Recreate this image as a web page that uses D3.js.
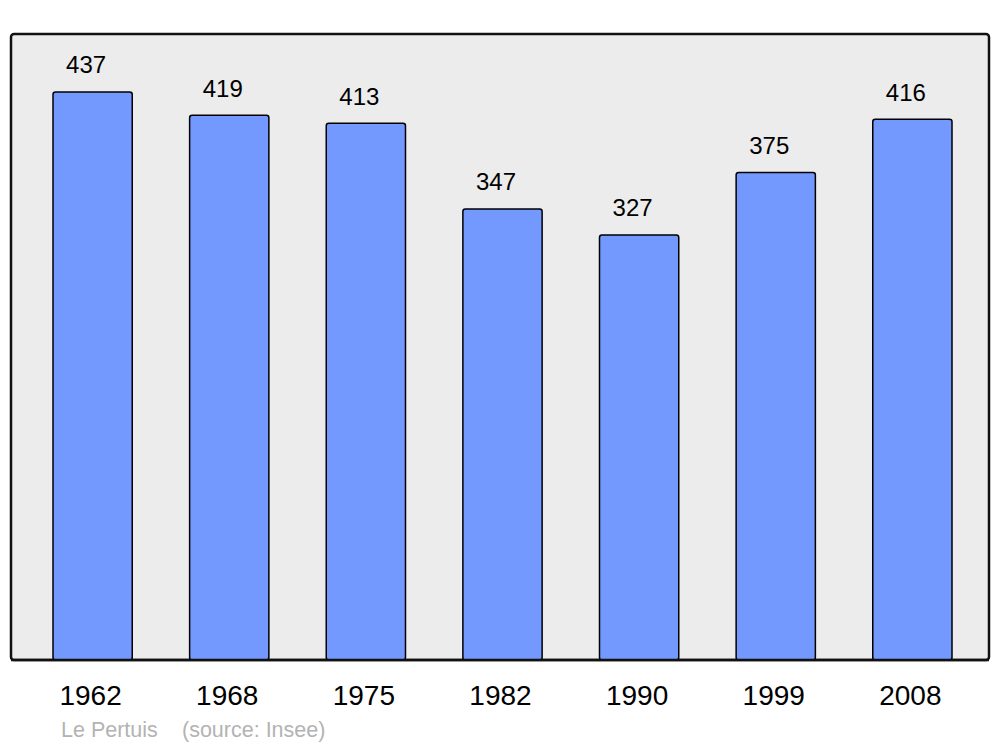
<!DOCTYPE html>
<html><head><meta charset="utf-8">
<script src="https://cdn.jsdelivr.net/npm/d3@7"></script>
<style>body{margin:0;background:#fff}</style>
</head><body>
<script>
const years = ["1962","1968","1975","1982","1990","1999","2008"];
const population = [437,419,413,347,327,375,416];
const placeName = "Le Pertuis";
const sourceText = "(source: Insee)";

const W = 1000, H = 747;
const svg = d3.select("body").append("svg").attr("width", W).attr("height", H);

const panel = {x0: 11, y0: 34, x1: 989, y1: 660};
svg.append("rect").attr("x", panel.x0).attr("y", panel.y0)
  .attr("width", panel.x1 - panel.x0).attr("height", panel.y1 - panel.y0)
  .attr("rx", 3).attr("fill", "#ececec").attr("stroke", "#111").attr("stroke-width", 2.5);

const x = d3.scaleBand().domain(years).range([53, 952]).paddingInner(0.42).paddingOuter(0);
const y = d3.scaleLinear().domain([0, 481.6]).range([panel.y1, panel.y0]);

const data = years.map((yr, i) => ({yr, v: population[i]}));

svg.selectAll("rect.bar").data(data).enter().append("rect").attr("class", "bar")
  .attr("x", d => x(d.yr)).attr("y", d => y(d.v))
  .attr("width", x.bandwidth()).attr("height", d => y(0) - y(d.v))
  .attr("rx", 2.5).attr("fill", "#7399ff").attr("stroke", "#000").attr("stroke-width", 1.5);

// redraw panel bottom edge over bars
svg.append("line").attr("x1", panel.x0).attr("x2", panel.x1).attr("y1", panel.y1).attr("y2", panel.y1)
  .attr("stroke", "#111").attr("stroke-width", 2.5);

svg.selectAll("text.val").data(data).enter().append("text").attr("class", "val")
  .attr("x", d => x(d.yr) + x.bandwidth() / 2 - 6.5).attr("y", d => y(d.v) - 18.5)
  .attr("text-anchor", "middle").attr("font-family", "Liberation Sans, Arial, sans-serif")
  .attr("font-size", 24).attr("fill", "#000").text(d => d.v);

svg.selectAll("text.yr").data(data).enter().append("text").attr("class", "yr")
  .attr("x", d => x(d.yr) + x.bandwidth() / 2 - 2).attr("y", 705)
  .attr("text-anchor", "middle").attr("font-family", "Liberation Sans, Arial, sans-serif")
  .attr("font-size", 28).attr("fill", "#000").text(d => d.yr);

svg.append("text").attr("x", 61).attr("y", 737).attr("font-family", "Liberation Sans, Arial, sans-serif")
  .attr("font-size", 21.5).attr("fill", "#b3b3b3").text(placeName);
svg.append("text").attr("x", 182).attr("y", 737).attr("font-family", "Liberation Sans, Arial, sans-serif")
  .attr("font-size", 21.5).attr("fill", "#b3b3b3").text(sourceText);
</script>
</body></html>
